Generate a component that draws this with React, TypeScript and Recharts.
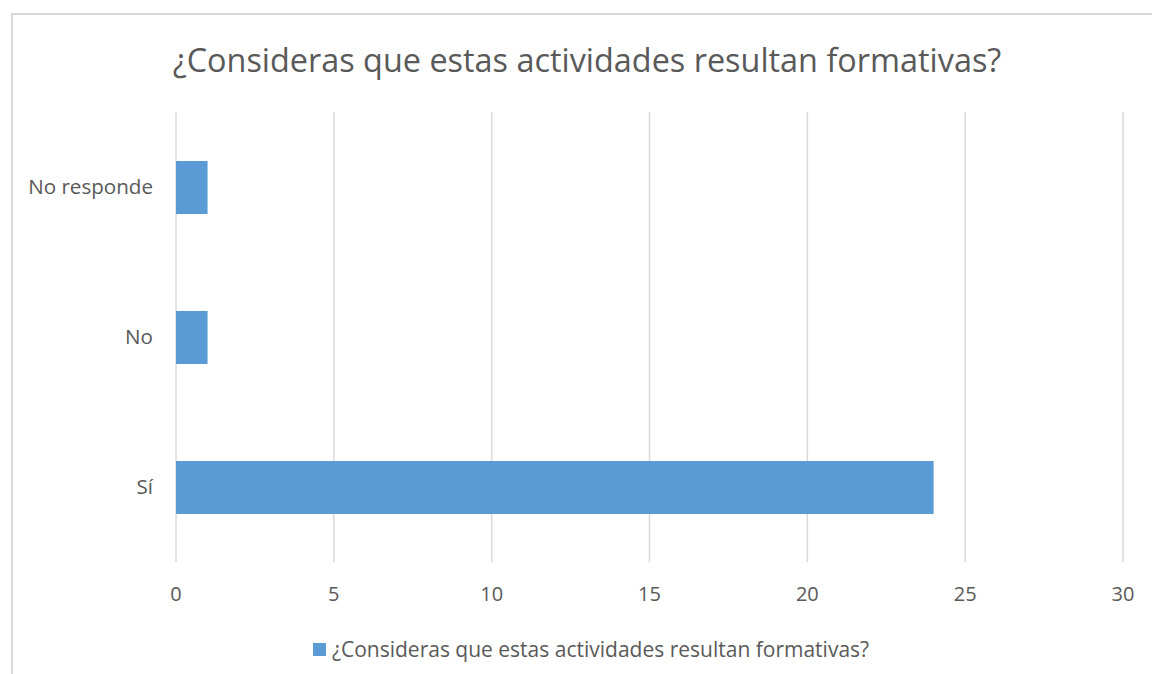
import React from 'react';
import { BarChart, Bar, XAxis, YAxis, CartesianGrid, Legend } from 'recharts';

const categories = ['No responde', 'No', 'Sí'];
const values = [1, 1, 24];
const xTicks = [0, 5, 10, 15, 20, 25, 30];
const seriesName = '¿Consideras que estas actividades resultan formativas?';
const title = '¿Consideras que estas actividades resultan formativas?';

const data = categories.map((name, i) => ({ name, value: values[i] }));

const FONT = '"Open Sans", "Noto Sans", sans-serif';
const TEXT = '#595959';
const BAR = '#5b9bd5';
const GRID = '#d9d9d9';

const LegendContent = () => (
  <div
    style={{
      display: 'flex',
      justifyContent: 'center',
      alignItems: 'center',
      height: 24,
      fontFamily: FONT,
      fontSize: 21,
      color: TEXT,
      whiteSpace: 'nowrap',
    }}
  >
    <span style={{ display: 'inline-block', width: 13, height: 13, background: BAR, marginRight: 6 }} />
    <span>{seriesName}</span>
  </div>
);

export default function App() {
  return (
    <div style={{ position: 'relative', width: 1152, height: 674, overflow: 'hidden', background: '#fff' }}>
      <style>{'html,body{margin:0;padding:0;overflow:hidden;}'}</style>
      <div
        style={{
          position: 'absolute',
          left: 11,
          top: 13,
          width: 1200,
          height: 700,
          borderTop: `2px solid ${GRID}`,
          borderLeft: `2px solid ${GRID}`,
          boxSizing: 'border-box',
        }}
      />
      <div
        style={{
          position: 'absolute',
          left: 8,
          top: 37,
          width: 1158,
          textAlign: 'center',
          fontFamily: FONT,
          fontSize: 32.4,
          color: TEXT,
          whiteSpace: 'nowrap',
        }}
      >
        {title}
      </div>
      <div style={{ position: 'absolute', left: 8, top: 8 }}>
        <BarChart
          width={1144}
          height={666}
          layout="vertical"
          data={data}
          margin={{ top: 104, right: 29, bottom: 28, left: 0 }}
        >
          <CartesianGrid horizontal={false} vertical={true} stroke={GRID} strokeWidth={1.5} />
          <XAxis
            type="number"
            domain={[0, 30]}
            ticks={xTicks}
            axisLine={false}
            tickLine={false}
            tickSize={0}
            tickMargin={25}
            height={60}
            tick={{ fill: TEXT, fontSize: 20, fontFamily: FONT }}
          />
          <YAxis
            type="category"
            dataKey="name"
            width={168}
            axisLine={false}
            tickLine={false}
            tickSize={0}
            tickMargin={23}
            tick={{ fill: TEXT, fontSize: 20.6, fontFamily: FONT }}
          />
          <Legend
            verticalAlign="bottom"
            content={<LegendContent />}
            wrapperStyle={{ top: 629, left: 0, width: 1166, height: 24 }}
          />
          <Bar dataKey="value" name={seriesName} fill={BAR} barSize={53} isAnimationActive={false} />
        </BarChart>
      </div>
    </div>
  );
}
